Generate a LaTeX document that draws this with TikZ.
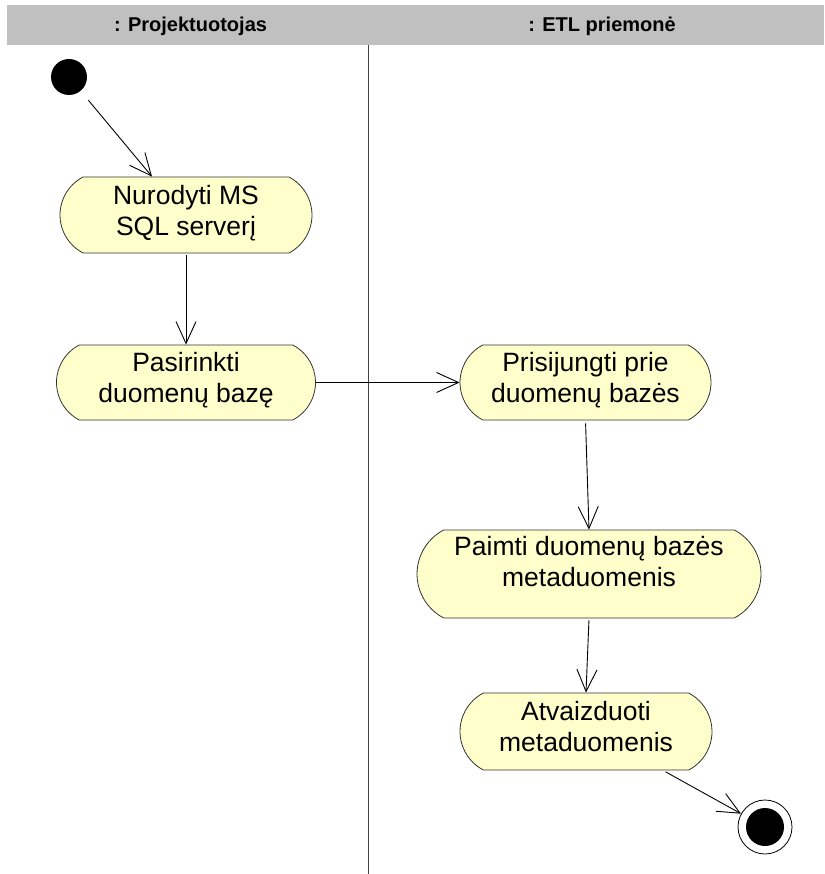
\documentclass[tikz,border=0pt]{standalone}
\usepackage{fontspec}
\setmainfont{Liberation Sans}
\usetikzlibrary{shapes.misc,arrows.meta}
\definecolor{actfill}{HTML}{FFFFCC}
\definecolor{laneband}{HTML}{C0C0C0}
% depth strut used to lift the two text lines inside an activity
\newcommand{\liftby}[1]{\rule[-#1]{0pt}{0pt}}
\begin{document}
\begin{tikzpicture}[x=1pt,y=-1pt,
  activity/.style={rounded rectangle, rounded rectangle arc length=125,
    draw=black!80, line width=0.8pt, fill=actfill, align=center,
    inner sep=0pt, font=\fontsize{26.5}{31}\selectfont},
  flow/.style={draw=black, line width=0.9pt,
    -{Straight Barb[length=22pt,width=20pt,line width=0.9pt]}},
  lanetitle/.style={font=\fontsize{20}{24}\selectfont\bfseries, anchor=base},
  startstate/.style={circle, fill=black, minimum size=36pt, inner sep=0pt},
  endstate/.style={circle, draw=black, line width=0.8pt, fill=white,
    minimum size=54pt, inner sep=0pt,
    path picture={\fill[black] (path picture bounding box.center) circle (19pt);}}
]
\useasboundingbox (0,0) rectangle (824,874);

% swimlane header and separator
\fill[laneband] (7,5) rectangle (824,45);
\node[lanetitle] (laneA) at (190.5,31.5) {: Projektuotojas};
\node[lanetitle] (laneB) at (602,31.5) {: ETL priemonė};
\draw[black!75, line width=0.8pt] (368,45) -- (368,874);

% states
\node[startstate] (init) at (69,77) {};
\node[endstate] (fin) at (765,827) {};

% activities
\node[activity, minimum width=252pt, minimum height=76pt] (n1) at (186,215)
  {Nurodyti MS\\SQL serverį\liftby{10pt}};
\node[activity, minimum width=259pt, minimum height=75pt] (n2) at (186,382.5)
  {Pasirinkti\\duomenų bazę\liftby{10pt}};
\node[activity, minimum width=251pt, minimum height=75pt] (n3) at (585.5,382.5)
  {Prisijungti prie\\duomenų bazės\liftby{10pt}};
\node[activity, minimum width=344pt, minimum height=88pt] (n4) at (589,574)
  {Paimti duomenų bazės\\metaduomenis\liftby{25pt}};
\node[activity, minimum width=252pt, minimum height=77pt] (n5) at (586,731.5)
  {Atvaizduoti\\metaduomenis\liftby{10pt}};

% transitions
\draw[flow, shorten <=12pt] (init) -- ([xshift=-34pt]n1.north);
\draw[flow, shorten <=2pt] (n1.south) -- (n2.north);
\draw[flow] (n2.east) -- (n3.west);
\draw[flow, shorten <=3pt] (n3.south) -- (n4.north);
\draw[flow, shorten <=2pt] (n4.south) -- (n5.north);
\draw[flow, shorten <=3pt] ([xshift=77pt]n5.south) -- (fin);
\end{tikzpicture}
\end{document}
